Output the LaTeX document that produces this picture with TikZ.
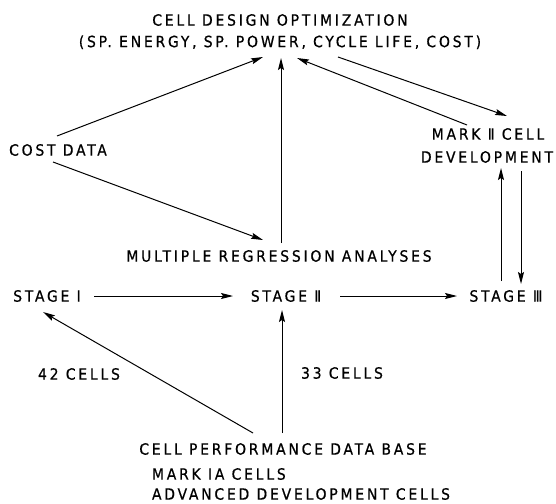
\documentclass[tikz,border=0pt]{standalone}
\usepackage{fontspec}
\setmainfont{DejaVu Sans Condensed}[LetterSpace=18,FakeBold=0.6]
\usetikzlibrary{arrows.meta,calc}
\tikzset{
  lbl/.style={inner sep=0pt, outer sep=0pt, font=\fontsize{15.5}{17}\selectfont, text height=11.3pt, text depth=0pt},
  arr/.style={line width=1pt, -{Stealth[length=12pt,width=6pt,inset=2pt]}},
}
\begin{document}
\begin{tikzpicture}[x=1pt,y=-1pt]
\useasboundingbox (0,0) rectangle (556,503);
% nodes
\node[lbl] (t1) at (280,20) {CELL DESIGN OPTIMIZATION};
\node[lbl] (t2) at (280,41.5) {(SP. ENERGY, SP. POWER, CYCLE LIFE, COST)};
\node[lbl] (cost) at (58,150) {COST DATA};
\node[lbl] (m1) at (488,134) {MARK Ⅱ CELL};
\node[lbl] (m2) at (487,157) {DEVELOPMENT};
\node[lbl] (mra) at (279,256) {MULTIPLE REGRESSION ANALYSES};
\node[lbl] (s1) at (47,296) {STAGE Ⅰ};
\node[lbl] (s2) at (286,296) {STAGE Ⅱ};
\node[lbl] (s3) at (506,296) {STAGE Ⅲ};
\node[lbl] (c42) at (79,374) {42 CELLS};
\node[lbl] (c33) at (342,373) {33 CELLS};
\node[lbl] (cpdb) at (283,449) {CELL PERFORMANCE DATA BASE};
\node[lbl, anchor=west] (mia) at (152,474) {MARK IA CELLS};
\node[lbl, anchor=west] (adv) at (152,494) {ADVANCED DEVELOPMENT CELLS};
% connectors
\draw[arr] ($(cost)+(-1,-14)$) -- ($(t2)+(-17,15.5)$);
\draw[arr] ($(mra)+(2,-13)$) -- ($(t2)+(1,16.5)$);
\draw[arr] ($(cost)+(-5,12)$) -- ($(mra)+(-16,-16)$);
\draw[arr] ($(m1)+(-21,-9)$) -- ($(t2)+(17,16.5)$);
\draw[arr] ($(t2)+(58,15.5)$) -- ($(m1)+(19,-18)$);
\draw[arr] ($(s1)+(47,0)$) -- ($(s2)+(-53,0)$);
\draw[arr] ($(s2)+(54,0)$) -- ($(s3)+(-49,0)$);
\draw[arr] ($(s3)+(-5,-15)$) -- ($(m2)+(14,11)$);
\draw[arr] ($(m2)+(34,14)$) -- ($(s3)+(15,-12)$);
\draw[arr] ($(cpdb)+(-30,-16)$) -- ($(s1)+(-4,16)$);
\draw[arr] ($(cpdb)+(-1,-16)$) -- ($(s2)+(-4,14)$);
\end{tikzpicture}
\end{document}
